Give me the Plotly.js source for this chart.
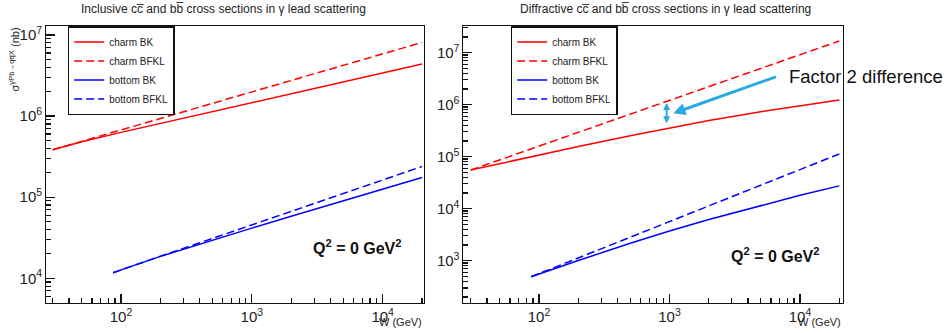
<!DOCTYPE html>
<html>
<head>
<meta charset="utf-8">
<script src="https://cdn.plot.ly/plotly-3.0.1.min.js"></script>
<style>
  html, body { margin: 0; padding: 0; background: #ffffff; }
  #plot { width: 951px; height: 333px; }
</style>
</head>
<body>
<div id="plot"></div>
<script>
// Photon energy grid W (GeV)
const W_CHARM = [30, 50, 100, 200, 500, 1000, 2000, 5000, 10000, 20000];
const W_BOTTOM = [87, 100, 200, 500, 1000, 2000, 5000, 10000, 20000];

// Inclusive cross sections (nb)
const incCharmBK    = [3.84e5, 4.82e5, 6.3e5, 8.1e5, 1.13e6, 1.46e6, 1.88e6, 2.63e6, 3.40e6, 4.38e6];
const incCharmBFKL  = [3.84e5, 4.88e5, 6.75e5, 9.33e5, 1.435e6, 1.99e6, 2.75e6, 4.23e6, 5.85e6, 8.09e6];
const incBottomBK   = [1.17e4, 1.27e4, 1.86e4, 2.96e4, 4.15e4, 5.82e4, 9.0e4, 1.26e5, 1.75e5];
const incBottomBFKL = [1.17e4, 1.27e4, 1.87e4, 3.10e4, 4.55e4, 6.68e4, 1.11e5, 1.63e5, 2.39e5];

// Diffractive cross sections (nb)
const difCharmBK    = [5.55e4, 7.38e4, 1.08e5, 1.57e5, 2.54e5, 3.61e5, 4.97e5, 7.30e5, 9.55e5, 1.23e6];
const difCharmBFKL  = [5.55e4, 8.69e4, 1.60e5, 2.94e5, 6.58e5, 1.21e6, 2.22e6, 4.97e6, 9.14e6, 1.68e7];
const difBottomBK   = [492, 557, 1.01e3, 2.16e3, 3.72e3, 6.18e3, 1.16e4, 1.81e4, 2.75e4];
const difBottomBFKL = [492, 566, 1.13e3, 2.83e3, 5.66e3, 1.13e4, 2.83e4, 5.65e4, 1.13e5];

const SERIES_NAMES = ['charm BK', 'charm BFKL', 'bottom BK', 'bottom BFKL'];

// "Factor 2" marker: W position and the two model values it spans
const FACTOR_W = 950;
const FACTOR_LOW = 4.1e5;
const FACTOR_HIGH = 1.08e6;

const FONT = 'Liberation Sans, Arial, Helvetica, sans-serif';
const RED = '#ff0000';
const BLUE = '#0000ff';
const ARROW = '#29a9e1';
const DASH = '8px,4px';

function line(x, y, name, color, dashed, xa, ya, legend) {
  return {
    type: 'scatter', mode: 'lines', x: x, y: y, name: name,
    xaxis: xa, yaxis: ya, legend: legend,
    line: { color: color, width: 1.5, dash: dashed ? DASH : 'solid' },
    hoverinfo: 'skip'
  };
}

const data = [
  line(W_CHARM, incCharmBK, SERIES_NAMES[0], RED, false, 'x', 'y', 'legend'),
  line(W_CHARM, incCharmBFKL, SERIES_NAMES[1], RED, true, 'x', 'y', 'legend'),
  line(W_BOTTOM, incBottomBK, SERIES_NAMES[2], BLUE, false, 'x', 'y', 'legend'),
  line(W_BOTTOM, incBottomBFKL, SERIES_NAMES[3], BLUE, true, 'x', 'y', 'legend'),
  line(W_CHARM, difCharmBK, SERIES_NAMES[0], RED, false, 'x2', 'y2', 'legend2'),
  line(W_CHARM, difCharmBFKL, SERIES_NAMES[1], RED, true, 'x2', 'y2', 'legend2'),
  line(W_BOTTOM, difBottomBK, SERIES_NAMES[2], BLUE, false, 'x2', 'y2', 'legend2'),
  line(W_BOTTOM, difBottomBFKL, SERIES_NAMES[3], BLUE, true, 'x2', 'y2', 'legend2')
];

// log axis with a full frame, decade labels and short ticks at 2..9
function logAxis(domain, range) {
  return {
    type: 'log', domain: domain, range: range,
    showline: true, mirror: true, linecolor: '#111', linewidth: 1.5,
    showgrid: false, zeroline: false,
    ticks: 'inside', ticklen: 9, tickwidth: 1.2, tickcolor: '#111',
    dtick: 1, exponentformat: 'power', showexponent: 'all',
    tickfont: { family: FONT, size: 12, color: '#222' },
    minor: { ticks: 'inside', ticklen: 5, tickwidth: 1.2, tickcolor: '#111', dtick: 'D1', showgrid: false }
  };
}

const yTop = 0.9219, yBot = 0.0901;

const layout = {
  width: 951, height: 333,
  margin: { l: 0, r: 0, t: 0, b: 0 },
  font: { family: FONT, color: '#222' },
  showlegend: true,
  xaxis: logAxis([0.0484, 0.4458], [1.4266, 4.3158]),
  yaxis: logAxis([yBot, yTop], [3.695, 7.111]),
  xaxis2: Object.assign(logAxis([0.4872, 0.8861], [1.420, 4.327]), { anchor: 'y2' }),
  yaxis2: Object.assign(logAxis([yBot, yTop], [2.187, 7.513]), { anchor: 'x2' }),
  legend: {
    x: 0.0712, y: yTop, xanchor: 'left', yanchor: 'top',
    bgcolor: '#ffffff', bordercolor: '#111', borderwidth: 1.5,
    font: { family: FONT, size: 10, color: '#222' },
    itemwidth: 30, tracegroupgap: 0
  },
  legend2: {
    x: 0.537, y: yTop, xanchor: 'left', yanchor: 'top',
    bgcolor: '#ffffff', bordercolor: '#111', borderwidth: 1.5,
    font: { family: FONT, size: 10, color: '#222' },
    itemwidth: 30, tracegroupgap: 0
  },
  annotations: [
    { xref: 'paper', yref: 'paper', x: 0.2345, y: 0.972, xanchor: 'center', yanchor: 'middle',
      text: 'Inclusive cc\u0305 and bb\u0305 cross sections in \u03b3 lead scattering',
      showarrow: false, font: { family: FONT, size: 12, color: '#222' } },
    { xref: 'paper', yref: 'paper', x: 0.7003, y: 0.972, xanchor: 'center', yanchor: 'middle',
      text: 'Diffractive cc\u0305 and bb\u0305 cross sections in \u03b3 lead scattering',
      showarrow: false, font: { family: FONT, size: 12, color: '#222' } },
    { xref: 'paper', yref: 'paper', x: 0.0147, y: 0.8213, xanchor: 'center', yanchor: 'middle',
      textangle: -90,
      text: '\u03c3<sup>\u03b3Pb\u2192qq\u0305X</sup> (nb)',
      showarrow: false, font: { family: FONT, size: 11, color: '#222' } },
    { xref: 'paper', yref: 'paper', x: 0.4458, y: 0.034, xanchor: 'right', yanchor: 'middle',
      text: 'W (GeV)', showarrow: false, font: { family: FONT, size: 11, color: '#222' } },
    { xref: 'paper', yref: 'paper', x: 0.8861, y: 0.034, xanchor: 'right', yanchor: 'middle',
      text: 'W (GeV)', showarrow: false, font: { family: FONT, size: 11, color: '#222' } },
    { xref: 'paper', yref: 'paper', x: 0.3759, y: 0.2592, xanchor: 'center', yanchor: 'middle',
      text: '<b>Q<sup>2</sup> = 0 GeV<sup>2</sup></b>', showarrow: false,
      font: { family: FONT, size: 16, color: '#111' } },
    { xref: 'paper', yref: 'paper', x: 0.8155, y: 0.2342, xanchor: 'center', yanchor: 'middle',
      text: '<b>Q<sup>2</sup> = 0 GeV<sup>2</sup></b>', showarrow: false,
      font: { family: FONT, size: 16, color: '#111' } },
    // double-headed arrow spanning the BK / BFKL gap
    { xref: 'x2', yref: 'y2', axref: 'x2', ayref: 'y2',
      x: Math.log10(FACTOR_W), y: Math.log10(FACTOR_HIGH),
      ax: Math.log10(FACTOR_W), ay: Math.log10(FACTOR_LOW),
      text: '', showarrow: true, arrowside: 'end+start', arrowhead: 2, startarrowhead: 2,
      arrowsize: 0.7, startarrowsize: 0.7, arrowwidth: 2, arrowcolor: ARROW, standoff: 0, startstandoff: 0 },
    // pointer from the label to the gap
    { xref: 'x2', yref: 'y2', x: Math.log10(1070), y: 5.835, ax: 104, ay: -37,
      text: '', showarrow: true, arrowhead: 2, arrowsize: 0.8, arrowwidth: 3, arrowcolor: ARROW, standoff: 0 },
    { xref: 'paper', yref: 'paper', x: 0.8272, y: 0.7697, xanchor: 'left', yanchor: 'middle',
      text: 'Factor 2 difference', showarrow: false,
      font: { family: FONT, size: 18.5, color: '#111' } }
  ]
};

Plotly.newPlot('plot', data, layout, { displayModeBar: false, staticPlot: true });
</script>
</body>
</html>
